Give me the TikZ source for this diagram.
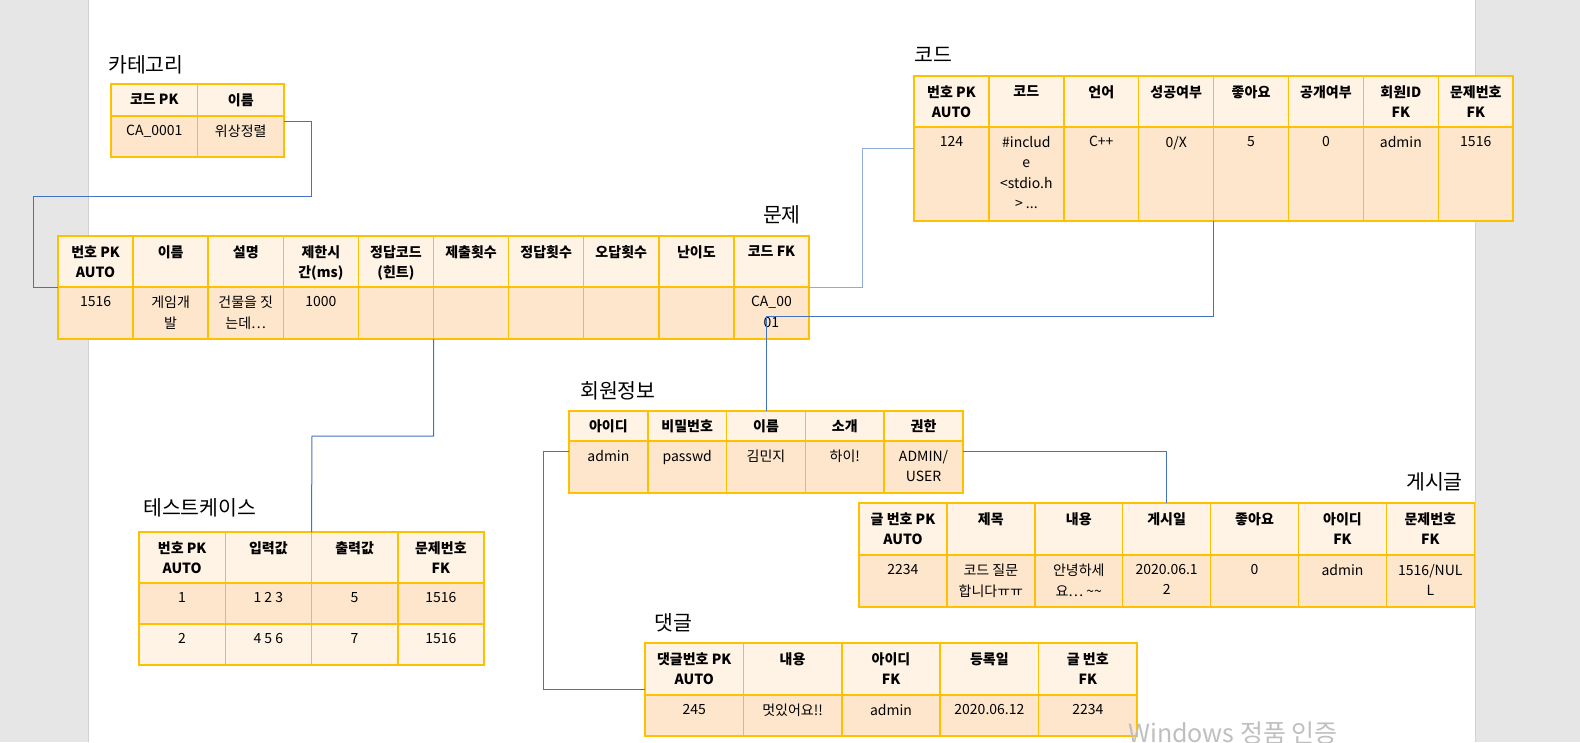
\documentclass[tikz,border=0pt]{standalone}
\usepackage{fontspec}
\setmainfont{Noto Sans CJK KR}
\definecolor{cellline}{HTML}{FFC000}
\definecolor{headfill}{HTML}{FFF3E6}
\definecolor{datafill}{HTML}{FDE6CC}
\definecolor{linkblue}{HTML}{4472C4}
\definecolor{linklight}{HTML}{8FAADC}
\definecolor{pagegray}{HTML}{E6E6E6}
\tikzset{
  hcell/.style={draw=cellline, fill=headfill, line width=1.5pt, anchor=north west, inner sep=0pt, outer sep=0pt},
  dcell/.style={hcell, fill=datafill},
  htext/.style={anchor=north, align=center, inner sep=0pt, yshift=-9pt, font=\fontsize{14}{20.5}\selectfont\bfseries},
  dtext/.style={htext, font=\fontsize{14}{20.5}\selectfont},
  tabletitle/.style={inner sep=0pt, font=\fontsize{20.5}{22}\selectfont},
  link/.style={draw=linkblue, line width=1pt}
}
\begin{document}
\begin{tikzpicture}[x=1pt, y=-1pt]
\useasboundingbox (0,0) rectangle (1580,742);
\fill[pagegray] (0,0) rectangle (1580,742);
\fill[white] (88,0) rectangle (1475,742);
\draw[black!18] (88,0) -- (88,742) (1475,0) -- (1475,742);

% 카테고리
\node (cat-title) [tabletitle, anchor=west] at (108,65) {카테고리};
\foreach \head/\val [count=\i from 0] in {{코드 PK}/{CA\_0001}, {이름}/{위상정렬}}{
  \node (cat-h\i) [hcell, minimum width=86.5pt, minimum height=32pt] at (111+86.5*\i,84) {};
  \node (cat-h\i-t) [htext] at (cat-h\i.north) {\head};
  \node (cat-d\i) [dcell, minimum width=86.5pt, minimum height=41pt] at (111+86.5*\i,116) {};
  \node (cat-d\i-t) [dtext] at (cat-d\i.north) {\val};
}

% 문제
\node (prob-title) [tabletitle, anchor=east] at (801,215) {문제};
\foreach \head/\val [count=\i from 0] in {{번호 PK\\AUTO}/{1516}, {이름}/{게임개\\발}, {설명}/{건물을 짓\\는데…},
    {제한시\\간(ms)}/{1000}, {정답코드\\(힌트)}/{}, {제출횟수}/{}, {정답횟수}/{}, {오답횟수}/{}, {난이도}/{},
    {코드 FK}/{CA\_00\\01}}{
  \node (prob-h\i) [hcell, minimum width=75.1pt, minimum height=51pt] at (58+75.1*\i,236) {};
  \node (prob-h\i-t) [htext] at (prob-h\i.north) {\head};
  \node (prob-d\i) [dcell, minimum width=75.1pt, minimum height=52pt] at (58+75.1*\i,287) {};
  \node (prob-d\i-t) [dtext] at (prob-d\i.north) {\val};
}

% 코드
\node (code-title) [tabletitle, anchor=west] at (914,55) {코드};
\foreach \head/\val [count=\i from 0] in {{번호 PK\\AUTO}/{124}, {코드}/{\#includ\\e\\<stdio.h\\> ...},
    {언어}/{C++}, {성공여부}/{0/X}, {좋아요}/{5}, {공개여부}/{0}, {회원ID\\FK}/{admin}, {문제번호\\FK}/{1516}}{
  \node (code-h\i) [hcell, minimum width=74.9pt, minimum height=51pt] at (914+74.9*\i,76) {};
  \node (code-h\i-t) [htext] at (code-h\i.north) {\head};
  \node (code-d\i) [dcell, minimum width=74.9pt, minimum height=94pt] at (914+74.9*\i,127) {};
  \node (code-d\i-t) [dtext] at (code-d\i.north) {\val};
}

% 회원정보
\node (mem-title) [tabletitle, anchor=west] at (580,391) {회원정보};
\foreach \head/\val [count=\i from 0] in {{아이디}/{admin}, {비밀번호}/{passwd}, {이름}/{김민지},
    {소개}/{하이!}, {권한}/{ADMIN/\\USER}}{
  \node (mem-h\i) [hcell, minimum width=78.8pt, minimum height=30pt] at (569+78.8*\i,411) {};
  \node (mem-h\i-t) [htext, yshift=1pt] at (mem-h\i.north) {\head};
  \node (mem-d\i) [dcell, minimum width=78.8pt, minimum height=52pt] at (569+78.8*\i,441) {};
  \node (mem-d\i-t) [dtext] at (mem-d\i.north) {\val};
}

% 게시글
\node (post-title) [tabletitle, anchor=east] at (1463,482) {게시글};
\foreach \head/\val [count=\i from 0] in {{글 번호 PK\\AUTO}/{2234}, {제목}/{코드 질문\\합니다ㅠㅠ},
    {내용}/{안녕하세\\요… \textasciitilde\textasciitilde}, {게시일}/{2020.06.1\\2}, {좋아요}/{0},
    {아이디\\FK}/{admin}, {문제번호\\FK}/{1516/NUL\\L}}{
  \node (post-h\i) [hcell, minimum width=87.9pt, minimum height=52pt] at (859+87.9*\i,503) {};
  \node (post-h\i-t) [htext] at (post-h\i.north) {\head};
  \node (post-d\i) [dcell, minimum width=87.9pt, minimum height=52pt] at (859+87.9*\i,555) {};
  \node (post-d\i-t) [dtext] at (post-d\i.north) {\val};
}

% 테스트케이스
\node (test-title) [tabletitle, anchor=west] at (143,508) {테스트케이스};
\foreach \head/\va/\vb [count=\i from 0] in {{번호 PK\\AUTO}/{1}/{2}, {입력값}/{1 2 3}/{4 5 6},
    {출력값}/{5}/{7}, {문제번호\\FK}/{1516}/{1516}}{
  \node (test-h\i) [hcell, minimum width=86.25pt, minimum height=51pt] at (139+86.25*\i,532) {};
  \node (test-h\i-t) [htext] at (test-h\i.north) {\head};
  \node (test-a\i) [dcell, minimum width=86.25pt, minimum height=41pt] at (139+86.25*\i,583) {};
  \node (test-a\i-t) [dtext] at (test-a\i.north) {\va};
  \node (test-b\i) [hcell, minimum width=86.25pt, minimum height=41pt] at (139+86.25*\i,624) {};
  \node (test-b\i-t) [dtext] at (test-b\i.north) {\vb};
}

% 댓글
\node (reply-title) [tabletitle, anchor=west] at (654,623) {댓글};
\foreach \head/\val [count=\i from 0] in {{댓글번호 PK\\AUTO}/{245}, {내용}/{멋있어요!!},
    {아이디\\FK}/{admin}, {등록일}/{2020.06.12}, {글 번호\\FK}/{2234}}{
  \node (reply-h\i) [hcell, minimum width=98.4pt, minimum height=52pt] at (645+98.4*\i,643) {};
  \node (reply-h\i-t) [htext] at (reply-h\i.north) {\head};
  \node (reply-d\i) [dcell, minimum width=98.4pt, minimum height=41pt] at (645+98.4*\i,695) {};
  \node (reply-d\i-t) [dtext] at (reply-d\i.north) {\val};
}

% connectors
\draw[link] ([yshift=-5pt]cat-d1.north east) -| (311,196) -| (33,287) -- (prob-h0.south west);
\draw[link, draw=linklight] (prob-h9.south east) -| (862,148) -- ([yshift=-21pt]code-d0.north west);
\draw[link] (code-d4.south west) |- (766,316) -- (mem-h2.north);
\draw[link] ([yshift=-10pt]mem-d4.north east) -| (post-h3.north);
\draw[link] ([yshift=-10pt]mem-d0.north west) -| (543,689) -- ([yshift=6pt]reply-h0.south west);
\draw[link] (prob-d5.south west) |- (312,436) -- (test-h2.north west);

\node (wm) [anchor=base west, inner sep=0pt, text=black!25, font=\fontsize{25}{25}\selectfont] at (1128,742) {Windows 정품 인증};
\end{tikzpicture}
\end{document}
